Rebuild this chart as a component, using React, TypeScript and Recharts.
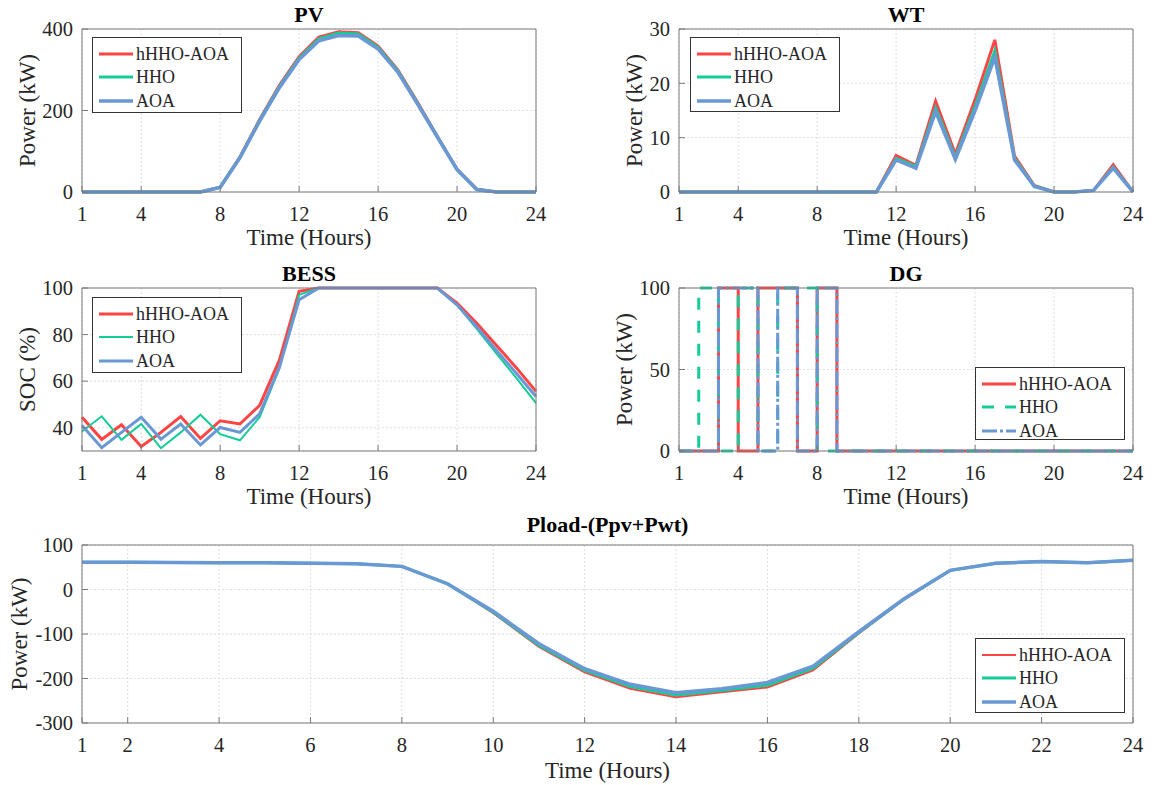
import React from "react";
import { LineChart, Line, XAxis, YAxis, CartesianGrid } from "recharts";

const FONT = '"Liberation Serif", "Times New Roman", serif';
const RED = "#ff4444";
const GREEN = "#14cc98";
const BLUE = "#6a98d4";
const AXIS = "#7a7a7a";
const INK = "#262626";

const HOURS = [1, 2, 3, 4, 5, 6, 7, 8, 9, 10, 11, 12, 13, 14, 15, 16, 17, 18, 19, 20, 21, 22, 23, 24];
const X_TICKS = [1, 4, 8, 12, 16, 20, 24];
const X_TICKS_WIDE = [1, 2, 4, 6, 8, 10, 12, 14, 16, 18, 20, 22, 24];

// PV output (kW)
const PV_HHHO_AOA = [0, 0, 0, 0, 0, 0, 0, 12, 86, 178, 262, 332, 380, 393, 391, 358, 300, 220, 137, 56, 7, 0, 0, 0];
const PV_HHO = [0, 0, 0, 0, 0, 0, 0, 12, 85, 176, 259, 328, 376, 390, 388, 355, 297, 218, 136, 55, 6, 0, 0, 0];
const PV_AOA = [0, 0, 0, 0, 0, 0, 0, 11, 84, 174, 256, 325, 371, 384, 383, 351, 294, 216, 135, 55, 6, 0, 0, 0];

// WT output (kW)
const WT_HHHO_AOA = [0, 0, 0, 0, 0, 0, 0, 0, 0, 0, 0, 6.7, 4.9, 16.7, 7.0, 17.0, 28.0, 6.6, 1.2, 0, 0, 0.3, 5.0, 0];
const WT_HHO = [0, 0, 0, 0, 0, 0, 0, 0, 0, 0, 0, 6.2, 4.7, 15.5, 6.4, 15.8, 26.0, 6.2, 1.1, 0, 0, 0.3, 4.6, 0];
const WT_AOA = [0, 0, 0, 0, 0, 0, 0, 0, 0, 0, 0, 5.9, 4.4, 14.8, 6.0, 15.0, 24.8, 5.9, 1.0, 0, 0, 0.3, 4.4, 0];

// BESS state of charge (%)
const SOC_HHHO_AOA = [44.5, 35, 41.3, 31.9, 38, 44.8, 35.4, 43, 41.6, 49.6, 69, 98.6, 100, 100, 100, 100, 100, 100, 100, 93.5, 84.8, 75.3, 65.8, 55.6];
const SOC_HHO = [38.4, 44.9, 34.8, 41.6, 31.2, 38, 45.6, 37.2, 34.6, 44.5, 65.5, 97.1, 100, 100, 100, 100, 100, 100, 100, 92.6, 82.4, 71.8, 61.4, 50.6];
const SOC_AOA = [40.9, 31.4, 38, 44.5, 35.1, 41.6, 32.6, 40.1, 38, 46, 66, 95, 100, 100, 100, 100, 100, 100, 100, 92.8, 83.3, 73.2, 63.4, 53.4];

// DG output (kW), held over each hour
const DG_HHHO_AOA = [0, 0, 100, 0, 100, 100, 0, 100, 0, 0, 0, 0, 0, 0, 0, 0, 0, 0, 0, 0, 0, 0, 0, 0];
const DG_HHO = [0, 100, 0, 100, 0, 100, 100, 0, 0, 0, 0, 0, 0, 0, 0, 0, 0, 0, 0, 0, 0, 0, 0, 0];
const DG_AOA = [0, 0, 100, 100, 0, 100, 0, 100, 0, 0, 0, 0, 0, 0, 0, 0, 0, 0, 0, 0, 0, 0, 0, 0];

// Pload - (Ppv + Pwt) (kW)
const NET_HHHO_AOA = [61, 61, 60.5, 60, 60, 59, 58, 52, 12, -53, -129, -186, -223, -242, -231, -220, -182, -99, -22, 43, 59, 63, 60, 66];
const NET_HHO = [61, 61, 60.5, 60, 60, 59, 58, 52, 12.5, -51, -126, -182, -218, -237, -227, -215, -177, -97, -21, 43, 59, 63, 60, 66];
const NET_AOA = [61, 61, 60.5, 60, 60, 59, 58, 52, 13, -49, -122, -178, -213, -232, -223, -209, -172, -95, -20, 43, 59, 63, 60, 66];

function rowsOf(a: number[], b: number[], c: number[]) {
  return HOURS.map((hour, i) => ({ hour, hhhoAoa: a[i], hho: b[i], aoa: c[i] }));
}

type Series = { key: string; name: string; color: string; width: number; dash?: string };

const solidSeries = (w: [number, number, number]): Series[] => [
  { key: "hhhoAoa", name: "hHHO-AOA", color: RED, width: w[0] },
  { key: "hho", name: "HHO", color: GREEN, width: w[1] },
  { key: "aoa", name: "AOA", color: BLUE, width: w[2] },
];

const dgSeries: Series[] = [
  { key: "hhhoAoa", name: "hHHO-AOA", color: RED, width: 3 },
  { key: "hho", name: "HHO", color: GREEN, width: 3, dash: "12 11" },
  { key: "aoa", name: "AOA", color: BLUE, width: 3, dash: "15 3 3 3" },
];

type Rect = { x: number; y: number; w: number; h: number };

const YW = 82;
const TOP = 40;
const RIGHT = 12;
const XH = 62;

function Panel(props: {
  rect: Rect;
  rows: any[];
  title: string;
  titleOffset: number;
  yLabel: string;
  yLabelX: number;
  xLabelOffset: number;
  yDomain: [number, number];
  yTicks: number[];
  xTicks: number[];
  series: Series[];
  step?: boolean;
}) {
  const { rect, rows, series } = props;
  const width = rect.w + YW + RIGHT;
  const height = rect.h + TOP + XH;
  const tickStyle = { fill: INK, fontSize: 20.5, fontFamily: FONT };
  return (
    <div style={{ position: "absolute", left: rect.x - YW, top: rect.y - TOP }}>
      <LineChart
        width={width}
        height={height}
        data={rows}
        margin={{ top: TOP - 1, right: RIGHT - 1, bottom: 0, left: 0 }}
      >
        <CartesianGrid stroke="#dedede" strokeDasharray="2 2" />
        <XAxis
          dataKey="hour"
          type="number"
          domain={[1, 24]}
          ticks={props.xTicks}
          interval={0}
          height={XH}
          stroke={AXIS}
          tickSize={-6}
          tickMargin={20}
          tick={tickStyle}
          label={{
            value: "Time (Hours)",
            position: "insideBottom",
            offset: props.xLabelOffset,
            style: { fill: INK, fontSize: 23, fontFamily: FONT },
          }}
        />
        <XAxis
          xAxisId="top"
          orientation="top"
          type="number"
          domain={[1, 24]}
          ticks={props.xTicks}
          interval={0}
          height={1}
          stroke={AXIS}
          tickSize={-6}
          tick={false}
          label={{
            value: props.title,
            position: "top",
            offset: props.titleOffset,
            style: { fill: "#000", fontSize: 22, fontWeight: "bold", fontFamily: FONT },
          }}
        />
        <YAxis
          type="number"
          domain={props.yDomain}
          ticks={props.yTicks}
          interval={0}
          width={YW}
          stroke={AXIS}
          tickSize={-6}
          tickMargin={15}
          tick={tickStyle}
          label={{
            value: props.yLabel,
            angle: -90,
            position: "insideLeft",
            offset: props.yLabelX,
            style: { fill: INK, fontSize: 23, fontFamily: FONT, textAnchor: "middle" },
          }}
        />
        <YAxis
          yAxisId="right"
          orientation="right"
          type="number"
          domain={props.yDomain}
          ticks={props.yTicks}
          interval={0}
          width={1}
          stroke={AXIS}
          tickSize={-6}
          tick={false}
        />
        {series.map((s) => (
          <Line
            key={s.key}
            type={props.step ? "stepAfter" : "linear"}
            dataKey={s.key}
            name={s.name}
            stroke={s.color}
            strokeWidth={s.width}
            strokeDasharray={s.dash}
            dot={false}
            isAnimationActive={false}
          />
        ))}
      </LineChart>
    </div>
  );
}

function LegendBox({ x, y, w, h, series }: { x: number; y: number; w: number; h: number; series: Series[] }) {
  return (
    <div
      style={{
        position: "absolute",
        left: x,
        top: y,
        width: w,
        height: h,
        boxSizing: "border-box",
        border: "1px solid #333",
        background: "#fff",
      }}
    >
      {series.map((s, i) => (
        <div
          key={s.key}
          style={{
            position: "absolute",
            left: 6,
            top: 15.5 + i * 23.5 - 12,
            height: 24,
            display: "flex",
            alignItems: "center",
            whiteSpace: "nowrap",
          }}
        >
          <svg width={34} height={8}>
            <line x1={0} x2={34} y1={4} y2={4} stroke={s.color} strokeWidth={s.width} strokeDasharray={s.dash} />
          </svg>
          <span style={{ marginLeft: 3, fontFamily: FONT, fontSize: 18, color: INK, lineHeight: "24px" }}>
            {s.name}
          </span>
        </div>
      ))}
    </div>
  );
}

export default function App() {
  const pvSeries = solidSeries([3, 3, 3.5]);
  const wtSeries = solidSeries([3, 3, 3.5]);
  const bessSeries = solidSeries([3, 2, 3]);
  const netSeries = solidSeries([2, 3, 3.5]);
  return (
    <div style={{ position: "absolute", left: 0, top: 0, width: 1152, height: 785, background: "#fff", overflow: "hidden" }}>
      <Panel
        rect={{ x: 82, y: 29, w: 454, h: 163 }}
        rows={rowsOf(PV_HHHO_AOA, PV_HHO, PV_AOA)}
        title="PV"
        titleOffset={6}
        yLabel="Power (kW)"
        yLabelX={27}
        xLabelOffset={9}
        yDomain={[0, 400]}
        yTicks={[0, 200, 400]}
        xTicks={X_TICKS}
        series={pvSeries}
      />
      <Panel
        rect={{ x: 679, y: 29, w: 454, h: 163 }}
        rows={rowsOf(WT_HHHO_AOA, WT_HHO, WT_AOA)}
        title="WT"
        titleOffset={6}
        yLabel="Power (kW)"
        yLabelX={37}
        xLabelOffset={9}
        yDomain={[0, 30]}
        yTicks={[0, 10, 20, 30]}
        xTicks={X_TICKS}
        series={wtSeries}
      />
      <Panel
        rect={{ x: 82, y: 288, w: 454, h: 163 }}
        rows={rowsOf(SOC_HHHO_AOA, SOC_HHO, SOC_AOA)}
        title="BESS"
        titleOffset={6}
        yLabel="SOC (%)"
        yLabelX={27}
        xLabelOffset={9}
        yDomain={[30, 100]}
        yTicks={[40, 60, 80, 100]}
        xTicks={X_TICKS}
        series={bessSeries}
      />
      <Panel
        rect={{ x: 679, y: 288, w: 454, h: 163 }}
        rows={rowsOf(DG_HHHO_AOA, DG_HHO, DG_AOA)}
        title="DG"
        titleOffset={6}
        yLabel="Power (kW)"
        yLabelX={27}
        xLabelOffset={9}
        yDomain={[0, 100]}
        yTicks={[0, 50, 100]}
        xTicks={X_TICKS}
        series={dgSeries}
        step
      />
      <Panel
        rect={{ x: 82, y: 545, w: 1051, h: 178 }}
        rows={rowsOf(NET_HHHO_AOA, NET_HHO, NET_AOA)}
        title="Pload-(Ppv+Pwt)"
        titleOffset={12}
        yLabel="Power (kW)"
        yLabelX={19}
        xLabelOffset={7}
        yDomain={[-300, 100]}
        yTicks={[-300, -200, -100, 0, 100]}
        xTicks={X_TICKS_WIDE}
        series={netSeries}
      />
      <LegendBox x={92} y={37} w={150} h={76} series={pvSeries} />
      <LegendBox x={690} y={37} w={150} h={75} series={wtSeries} />
      <LegendBox x={92} y={297} w={150} h={76} series={bessSeries} />
      <LegendBox x={975} y={367} w={150} h={73} series={dgSeries} />
      <LegendBox x={975} y={638} w={150} h={75} series={netSeries} />
    </div>
  );
}
